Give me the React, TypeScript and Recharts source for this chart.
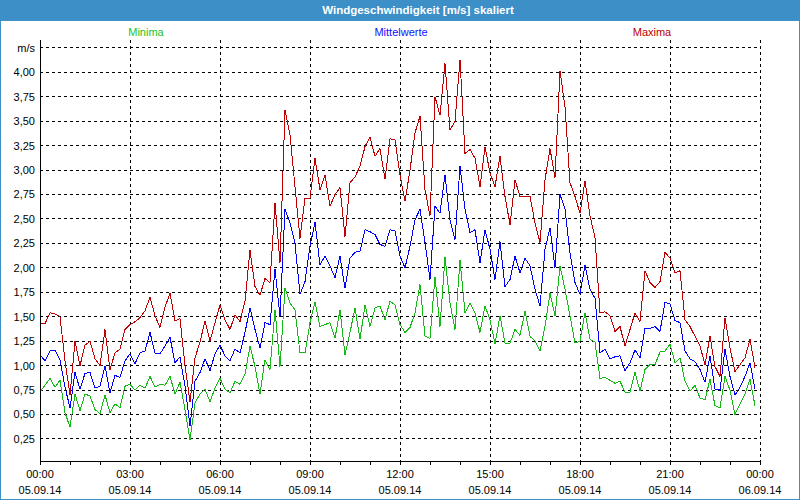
import React from 'react';
import { LineChart, Line, XAxis, YAxis, CartesianGrid } from 'recharts';

document.body.style.margin = '0';

// 10-minute values, 05.09.14 00:00 .. 23:50
const minima = [
  0.73, 0.80, 0.87, 0.78, 0.85, 0.52, 0.37, 0.71, 0.54, 0.71, 0.69, 0.55, 0.51, 0.70, 0.52, 0.61, 0.57, 0.79,
  0.81, 0.75, 0.80, 0.77, 0.89, 0.78, 0.81, 0.80, 0.89, 0.71, 0.83, 0.55, 0.24, 0.62, 0.71, 0.76, 0.63, 0.77,
  0.87, 0.76, 0.72, 0.84, 0.81, 0.91, 1.20, 0.99, 0.71, 1.06, 0.96, 1.57, 0.99, 1.79, 1.64, 1.57, 1.13, 1.13,
  1.44, 1.65, 1.40, 1.42, 1.44, 1.28, 1.57, 1.11, 1.34, 1.59, 1.27, 1.62, 1.40, 1.59, 1.61, 1.47, 1.66, 1.62,
  1.42, 1.34, 1.39, 1.54, 1.83, 1.30, 1.28, 1.91, 1.40, 2.11, 1.64, 1.37, 2.08, 1.54, 1.64, 1.54, 1.34, 1.61,
  1.47, 1.22, 1.51, 1.23, 1.23, 1.37, 1.31, 1.56, 1.30, 1.25, 1.15, 1.40, 1.74, 1.51, 2.02, 1.78, 1.51, 1.23,
  1.25, 1.54, 1.27, 1.24, 0.87, 0.88, 0.85, 0.82, 0.84, 0.73, 0.73, 0.93, 0.74, 0.96, 1.01, 1.01, 1.14, 1.15,
  1.22, 1.03, 1.08, 0.84, 0.74, 0.80, 0.67, 0.65, 0.86, 0.59, 0.57, 0.89, 0.75, 0.50, 0.61, 0.71, 0.86, 0.59,
];

const mittelwerte = [
  1.11, 1.05, 1.15, 1.16, 1.06, 0.78, 0.57, 0.93, 0.76, 0.92, 0.93, 0.77, 0.79, 1.00, 0.72, 0.90, 0.88, 1.05,
  1.12, 1.02, 1.13, 1.15, 1.34, 1.13, 1.12, 1.20, 1.29, 1.03, 1.09, 0.79, 0.38, 0.84, 0.93, 1.07, 0.95, 1.12,
  1.21, 1.10, 1.05, 1.17, 1.13, 1.34, 1.59, 1.37, 1.18, 1.44, 1.42, 1.99, 1.50, 2.60, 2.46, 2.25, 1.73, 1.86,
  2.22, 2.47, 2.03, 2.12, 2.02, 1.90, 2.12, 1.79, 2.10, 2.16, 2.17, 2.39, 2.37, 2.34, 2.24, 2.22, 2.39, 2.38,
  2.12, 2.00, 2.22, 2.49, 2.60, 2.26, 1.88, 2.63, 2.56, 2.95, 2.49, 2.29, 3.04, 2.60, 2.36, 2.39, 2.05, 2.39,
  2.19, 1.88, 2.27, 1.81, 1.88, 2.12, 1.95, 2.10, 2.02, 1.78, 1.61, 2.19, 2.41, 2.00, 2.75, 2.60, 2.15, 1.85,
  1.73, 2.03, 1.78, 1.69, 1.13, 1.17, 1.07, 1.09, 1.10, 0.95, 1.03, 1.16, 1.08, 1.38, 1.38, 1.40, 1.35, 1.65,
  1.63, 1.46, 1.44, 1.15, 1.07, 1.04, 0.96, 0.83, 1.10, 0.76, 0.75, 1.17, 0.89, 0.70, 0.78, 0.89, 1.03, 0.76,
];

const maxima = [
  1.43, 1.43, 1.54, 1.53, 1.50, 1.05, 0.70, 1.25, 1.00, 1.21, 1.25, 1.07, 1.00, 1.37, 0.96, 1.13, 1.17, 1.37,
  1.42, 1.45, 1.49, 1.56, 1.70, 1.51, 1.39, 1.60, 1.74, 1.46, 1.48, 1.00, 0.63, 1.08, 1.24, 1.46, 1.25, 1.44,
  1.62, 1.47, 1.37, 1.52, 1.45, 1.66, 2.18, 1.81, 1.72, 1.89, 1.85, 2.66, 2.05, 3.61, 3.36, 2.83, 2.30, 2.71,
  2.71, 3.12, 2.80, 2.95, 2.63, 2.75, 2.82, 2.32, 2.87, 2.93, 3.04, 3.24, 3.34, 3.14, 3.22, 2.91, 3.32, 3.31,
  2.95, 2.68, 3.00, 3.38, 3.55, 2.80, 2.53, 3.75, 3.56, 4.09, 3.41, 3.50, 4.13, 3.17, 3.21, 3.12, 2.83, 3.24,
  2.97, 2.83, 3.14, 2.73, 2.44, 2.90, 2.73, 2.73, 2.73, 2.46, 2.26, 2.90, 3.22, 2.92, 4.01, 3.65, 2.87, 2.73,
  2.56, 2.89, 2.53, 2.31, 1.54, 1.55, 1.51, 1.35, 1.40, 1.20, 1.37, 1.54, 1.45, 1.97, 1.85, 1.80, 1.86, 2.16,
  2.10, 1.95, 1.97, 1.47, 1.40, 1.30, 1.20, 1.01, 1.30, 0.99, 0.89, 1.49, 1.18, 0.94, 1.01, 1.08, 1.27, 0.98,
];

const tickTimes = ['00:00', '03:00', '06:00', '09:00', '12:00', '15:00', '18:00', '21:00', '00:00'];
const tickDates = ['05.09.14', '05.09.14', '05.09.14', '05.09.14', '05.09.14', '05.09.14', '05.09.14', '05.09.14', '06.09.14'];
const yTicks = [0.25, 0.5, 0.75, 1, 1.25, 1.5, 1.75, 2, 2.25, 2.5, 2.75, 3, 3.25, 3.5, 3.75, 4, 4.25];

const STEPS_PER_HOUR = 6;
const hourTicks = Array.from({ length: 25 }, (_, h) => h * STEPS_PER_HOUR);
const majorTicks = tickTimes.map((_, k) => k * 3 * STEPS_PER_HOUR);

const data = minima.map((v, i) => ({ t: i, min: v, mean: mittelwerte[i], max: maxima[i] }));

const FONT = '"Liberation Sans", Arial, sans-serif';
const Y_DOMAIN: [number, number] = [0.025, 4.33];

// old GDI-style look: no anti-aliasing on grid, axes and curves
const crispCss = `
  .recharts-cartesian-grid line, .recharts-cartesian-axis line, .recharts-line-curve {
    shape-rendering: crispEdges;
  }
`;

const TimeTick = (props: any) => {
  const { x, y, payload } = props;
  const k = majorTicks.indexOf(payload.value);
  if (k < 0) return null;
  return (
    <g>
      <text x={x} y={y + 11} textAnchor="middle" fontSize={11} fontFamily={FONT} fill="#000">
        {tickTimes[k]}
      </text>
      <text x={x} y={y + 27} textAnchor="middle" fontSize={11} fontFamily={FONT} fill="#000">
        {tickDates[k]}
      </text>
    </g>
  );
};

const legendItems = [
  { name: 'Minima', color: '#22c322', center: 146 },
  { name: 'Mittelwerte', color: '#1010ff', center: 401 },
  { name: 'Maxima', color: '#c00000', center: 652 },
];

export default function App() {
  return (
    <div style={{ position: 'relative', width: 800, height: 500, background: '#fff', overflow: 'hidden' }}>
      <style>{crispCss}</style>
      <div
        style={{
          position: 'absolute', left: 0, top: 0, width: 800, height: 21, background: '#3c8fc7',
          color: '#fff', fontFamily: FONT, fontWeight: 'bold', fontSize: 11.5, lineHeight: '20px',
          textAlign: 'center', paddingLeft: 36, boxSizing: 'border-box',
        }}
      >
        Windgeschwindigkeit [m/s] skaliert
      </div>
      {legendItems.map((it) => (
        <span
          key={it.name}
          style={{
            position: 'absolute', top: 25, left: it.center - 60, width: 120, textAlign: 'center',
            color: it.color, fontFamily: FONT, fontSize: 11, lineHeight: '14px',
          }}
        >
          {it.name}
        </span>
      ))}
      <div style={{ position: 'absolute', left: 0, top: 0 }}>
        <LineChart width={800} height={500} data={data} margin={{ top: 40, right: 40, bottom: 4, left: 0 }}>
          <CartesianGrid
            stroke="#000"
            strokeDasharray="3 3"
            verticalValues={majorTicks}
            horizontalValues={yTicks}
          />
          <XAxis
            dataKey="t"
            type="number"
            domain={[0, 144]}
            ticks={hourTicks}
            interval={0}
            height={35}
            tickSize={4}
            tickMargin={2}
            tick={<TimeTick />}
            axisLine={{ stroke: '#000' }}
            tickLine={{ stroke: '#000' }}
          />
          <XAxis
            xAxisId="top"
            orientation="top"
            type="number"
            domain={[0, 144]}
            height={0}
            tick={false}
            tickLine={false}
            axisLine={{ stroke: '#000' }}
          />
          <YAxis
            type="number"
            domain={Y_DOMAIN}
            allowDataOverflow
            ticks={yTicks}
            interval={0}
            width={40}
            tickSize={0}
            tickMargin={5}
            tickLine={false}
            axisLine={{ stroke: '#000' }}
            tick={{ fontSize: 11, fontFamily: FONT, fill: '#000' }}
            tickFormatter={(v: number) => (v === 4.25 ? 'm/s' : v.toFixed(2).replace('.', ','))}
          />
          <YAxis
            yAxisId="right"
            orientation="right"
            type="number"
            domain={Y_DOMAIN}
            width={0}
            tick={false}
            tickLine={false}
            axisLine={{ stroke: '#000' }}
          />
          <Line type="linear" dataKey="min" name="Minima" stroke="#16b816" strokeWidth={1} dot={false} isAnimationActive={false} />
          <Line type="linear" dataKey="mean" name="Mittelwerte" stroke="#0000ff" strokeWidth={1} dot={false} isAnimationActive={false} />
          <Line type="linear" dataKey="max" name="Maxima" stroke="#c00000" strokeWidth={1} dot={false} isAnimationActive={false} />
        </LineChart>
      </div>
      <div
        style={{
          position: 'absolute', left: 0, top: 0, width: 800, height: 500, boxSizing: 'border-box',
          border: '1px solid #3c8fc7', pointerEvents: 'none',
        }}
      />
    </div>
  );
}
